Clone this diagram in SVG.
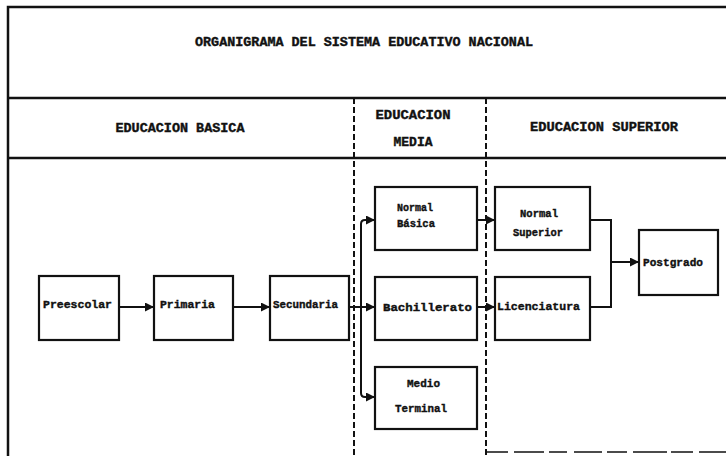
<svg xmlns="http://www.w3.org/2000/svg" width="726" height="456" viewBox="0 0 726 456">
<defs>
<style>
.frame{fill:none;stroke:#111;stroke-width:2.5}
.dash{fill:none;stroke:#111;stroke-width:2;stroke-dasharray:6 3}
.box{fill:#fff;stroke:#111;stroke-width:2.2}
.conn{fill:none;stroke:#111;stroke-width:2}
.hdr{font-family:"Liberation Mono","DejaVu Sans Mono",monospace;font-weight:bold;font-size:13px;fill:#111;stroke:#111;stroke-width:0.4}
.lbl{font-family:"Liberation Mono","DejaVu Sans Mono",monospace;font-weight:bold;font-size:11.5px;fill:#111;stroke:#111;stroke-width:0.4}
</style>
<marker id="ah" viewBox="0 0 10 10" refX="10" refY="5" markerWidth="10" markerHeight="9" markerUnits="userSpaceOnUse" orient="auto">
<path d="M0,0 L10,5 L0,10 Z" fill="#111"/>
</marker>
</defs>
<rect width="726" height="456" fill="#fff"/>
<g id="frame">
<path class="frame" d="M8,456 V7 H726"/>
<path class="frame" d="M8,98 H726"/>
<path class="frame" d="M8,158 H726"/>
<path class="dash" d="M354,98 V456"/>
<path class="dash" d="M486,98 V456"/>
<path fill="none" stroke="#111" stroke-width="1.6" stroke-dasharray="22 6 30 5 18 7 28 5 20 6 34 4" d="M486,452 H726"/>
</g>
<g id="headers">
<text class="hdr" x="364" y="46" text-anchor="middle" textLength="338" lengthAdjust="spacingAndGlyphs">ORGANIGRAMA DEL SISTEMA EDUCATIVO NACIONAL</text>
<text class="hdr" x="180" y="132" text-anchor="middle" textLength="129" lengthAdjust="spacingAndGlyphs">EDUCACION BASICA</text>
<text class="hdr" x="413" y="119" text-anchor="middle" textLength="75" lengthAdjust="spacingAndGlyphs">EDUCACION</text>
<text class="hdr" x="413" y="146" text-anchor="middle" textLength="39" lengthAdjust="spacingAndGlyphs">MEDIA</text>
<text class="hdr" x="604" y="131" text-anchor="middle" textLength="148" lengthAdjust="spacingAndGlyphs">EDUCACION SUPERIOR</text>
</g>
<g id="connectors">
<path class="conn" d="M119,307 H154" marker-end="url(#ah)"/>
<path class="conn" d="M233,307 H270" marker-end="url(#ah)"/>
<path class="conn" d="M349,307 H375" marker-end="url(#ah)"/>
<path class="conn" d="M361,307 V393 Q361,397 365,397 H375" marker-end="url(#ah)"/>
<path class="conn" d="M361,307 V224 Q361,220 365,220 H375" marker-end="url(#ah)"/>
<path class="conn" d="M477,220 H495" marker-end="url(#ah)"/>
<path class="conn" d="M477,307 H495" marker-end="url(#ah)"/>
<path class="conn" d="M590,220 H611 V307 H590"/>
<path class="conn" d="M611,262 H639" marker-end="url(#ah)"/>
</g>
<g id="preescolar">
<rect class="box" x="39" y="276" width="80" height="64"/>
<text class="lbl" x="43" y="308" textLength="69" lengthAdjust="spacingAndGlyphs">Preescolar</text>
</g>
<g id="primaria">
<rect class="box" x="154" y="276" width="79" height="64"/>
<text class="lbl" x="160" y="308" textLength="55" lengthAdjust="spacingAndGlyphs">Primaria</text>
</g>
<g id="secundaria">
<rect class="box" x="270" y="276" width="79" height="64"/>
<text class="lbl" x="273" y="308" textLength="65" lengthAdjust="spacingAndGlyphs">Secundaria</text>
</g>
<g id="normal-basica">
<rect class="box" x="375" y="187" width="102" height="63"/>
<text class="lbl" x="397" y="211" textLength="36" lengthAdjust="spacingAndGlyphs">Normal</text>
<text class="lbl" x="397" y="227" textLength="38" lengthAdjust="spacingAndGlyphs">Básica</text>
</g>
<g id="bachillerato">
<rect class="box" x="375" y="277" width="102" height="63"/>
<text class="lbl" x="383" y="311" textLength="89" lengthAdjust="spacingAndGlyphs">Bachillerato</text>
</g>
<g id="medio-terminal">
<rect class="box" x="375" y="367" width="102" height="62"/>
<text class="lbl" x="407" y="387" textLength="33" lengthAdjust="spacingAndGlyphs">Medio</text>
<text class="lbl" x="395" y="412" textLength="52" lengthAdjust="spacingAndGlyphs">Terminal</text>
</g>
<g id="normal-superior">
<rect class="box" x="495" y="187" width="95" height="63"/>
<text class="lbl" x="520" y="217" textLength="38" lengthAdjust="spacingAndGlyphs">Normal</text>
<text class="lbl" x="513" y="236" textLength="50" lengthAdjust="spacingAndGlyphs">Superior</text>
</g>
<g id="licenciatura">
<rect class="box" x="495" y="277" width="95" height="63"/>
<text class="lbl" x="497" y="310" textLength="83" lengthAdjust="spacingAndGlyphs">Licenciatura</text>
</g>
<g id="postgrado">
<rect class="box" x="639" y="230" width="79" height="65"/>
<text class="lbl" x="643" y="266" textLength="60" lengthAdjust="spacingAndGlyphs">Postgrado</text>
</g>
</svg>
